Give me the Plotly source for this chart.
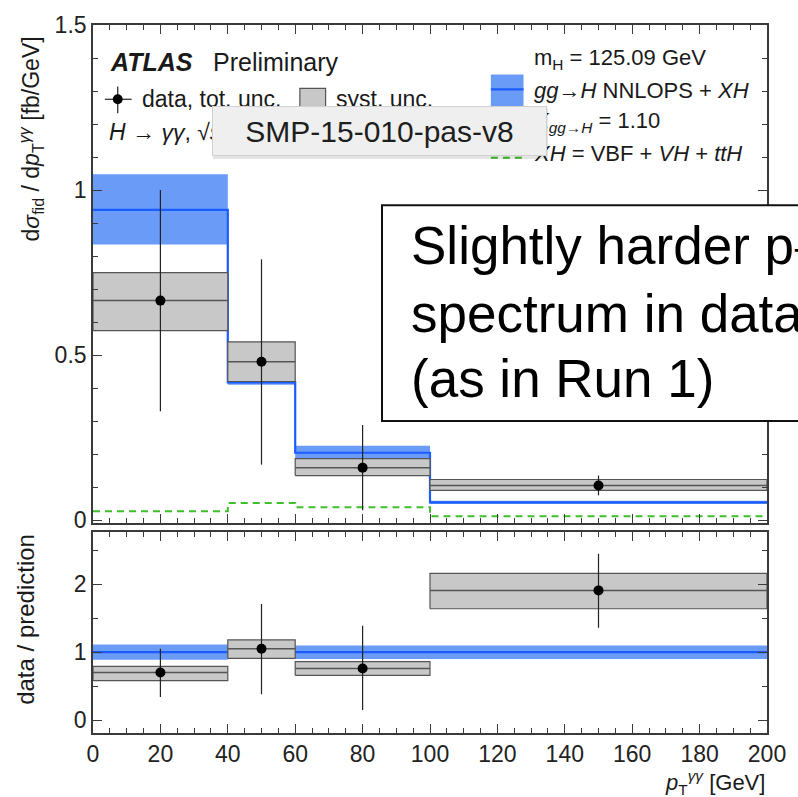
import plotly.graph_objects as go

# pT(gamma gamma) binning [GeV]
bin_lo = [0, 40, 60, 100]
bin_hi = [40, 60, 100, 200]
bin_mid = [20, 50, 80, 150]

# measured fiducial cross section [fb/GeV]
xs_data = [0.665, 0.48, 0.159, 0.105]
xs_tot_up = [0.335, 0.31, 0.129, 0.03]
xs_tot_dn = [0.335, 0.312, 0.129, 0.03]
xs_syst_hi = [0.75, 0.54, 0.186, 0.123]
xs_syst_lo = [0.574, 0.42, 0.135, 0.09]

# gg->H NNLOPS + XH prediction and its uncertainty band
pred = [0.94, 0.417, 0.204, 0.054]
pred_hi = [1.048, 0.45, 0.225, 0.059]
pred_lo = [0.835, 0.41, 0.185, 0.049]
# XH = VBF + VH + ttH contribution
xh = [0.027, 0.052, 0.039, 0.012]

# data / prediction
ratio = [0.70, 1.05, 0.76, 1.91]
ratio_tot_up = [0.35, 0.66, 0.63, 0.54]
ratio_tot_dn = [0.36, 0.67, 0.61, 0.55]
ratio_syst_hi = [0.79, 1.18, 0.86, 2.16]
ratio_syst_lo = [0.58, 0.91, 0.66, 1.64]
ratio_pred = [1.0, 1.0, 1.0, 1.0]
ratio_pred_hi = [1.115, 1.1, 1.1, 1.1]
ratio_pred_lo = [0.888, 0.9, 0.9, 0.9]

# comment box lines
note_lines = ["Slightly harder p<sub>T</sub>", "spectrum in data", "(as in Run 1)"]

FONT = "Liberation Sans, Arial, Helvetica, sans-serif"
BAND = "#6a9cf7"
LINE = "#1a5cff"
GREEN = "#3fbf2a"
GREY = "#c8c8c8"
EDGE = "#555555"
AXIS = "#3a3a3a"


def boxes(lo_x, hi_x, lo_y, hi_y):
    xs, ys = [], []
    for a, b, c, d in zip(lo_x, hi_x, lo_y, hi_y):
        xs += [a, b, b, a, a, None]
        ys += [c, c, d, d, c, None]
    return xs, ys


def step(vals):
    return bin_lo + [bin_hi[-1]], list(vals) + [vals[-1]]


def flat(vals):
    xs, ys = [], []
    for a, b, v in zip(bin_lo, bin_hi, vals):
        xs += [a, b, None]
        ys += [v, v, None]
    return xs, ys


fig = go.Figure()


def add_panel(ax, yax, band_lo, band_hi, central, syst_lo, syst_hi, val, up, dn, extra=None):
    bx, by = boxes(bin_lo, bin_hi, band_lo, band_hi)
    fig.add_trace(go.Scatter(x=bx, y=by, fill="toself", fillcolor=BAND, mode="none",
                             xaxis=ax, yaxis=yax, hoverinfo="skip"))
    sx, sy = step(central)
    fig.add_trace(go.Scatter(x=sx, y=sy, mode="lines", line=dict(color=LINE, width=2.2, shape="hv"),
                             xaxis=ax, yaxis=yax, hoverinfo="skip"))
    if extra is not None:
        ex, ey = step(extra)
        fig.add_trace(go.Scatter(x=ex, y=ey, mode="lines",
                                 line=dict(color=GREEN, width=2, shape="hv", dash="7px,5px"),
                                 xaxis=ax, yaxis=yax, hoverinfo="skip"))
    gx, gy = boxes(bin_lo, bin_hi, syst_lo, syst_hi)
    fig.add_trace(go.Scatter(x=gx, y=gy, fill="toself", fillcolor=GREY, mode="lines",
                             line=dict(color=EDGE, width=1.2), xaxis=ax, yaxis=yax, hoverinfo="skip"))
    fx, fy = flat(val)
    fig.add_trace(go.Scatter(x=fx, y=fy, mode="lines", line=dict(color=EDGE, width=1.5),
                             xaxis=ax, yaxis=yax, hoverinfo="skip"))
    fig.add_trace(go.Scatter(x=bin_mid, y=val, mode="markers",
                             marker=dict(color="black", size=10),
                             error_y=dict(type="data", array=up, arrayminus=dn, width=0,
                                          thickness=1.2, color="#222222"),
                             xaxis=ax, yaxis=yax, hoverinfo="skip"))


add_panel("x", "y", pred_lo, pred_hi, pred, xs_syst_lo, xs_syst_hi, xs_data, xs_tot_up, xs_tot_dn, extra=xh)
add_panel("x2", "y2", ratio_pred_lo, ratio_pred_hi, ratio_pred, ratio_syst_lo, ratio_syst_hi, ratio,
          ratio_tot_up, ratio_tot_dn)

axis_common = dict(showline=True, linecolor=AXIS, linewidth=1.6, mirror="allticks",
                   ticks="inside", tickcolor=AXIS, tickwidth=1.2, ticklen=9,
                   showgrid=False, zeroline=False,
                   tickfont=dict(family=FONT, size=23, color="#222222"))
minor_common = dict(ticklen=5, ticks="inside", tickcolor=AXIS, tickwidth=1)

fig.update_layout(
    width=798, height=797,
    margin=dict(l=93, r=24, t=18, b=64),
    paper_bgcolor="white", plot_bgcolor="white",
    showlegend=False,
    xaxis=dict(domain=[0, 1], anchor="y", range=[0, 200], tick0=0, dtick=20, showticklabels=False,
               minor=dict(dtick=5, **minor_common), **axis_common),
    yaxis=dict(domain=[0.2965, 1], anchor="x", range=[-0.009, 1.5], tick0=0, dtick=0.5,
               minor=dict(dtick=0.1, **minor_common), **axis_common),
    xaxis2=dict(domain=[0, 1], anchor="y2", range=[0, 200], tick0=0, dtick=20,
                minor=dict(dtick=5, **minor_common), **axis_common),
    yaxis2=dict(domain=[0, 0.2839], anchor="x2", range=[-0.19, 2.77], tick0=0, dtick=1,
                minor=dict(dtick=0.5, **minor_common), **axis_common),
)

# pixel -> paper helpers for decorations
L, T, W, H = 93, 18, 681, 715


def px(x):
    return (x - L) / W


def py(y):
    return (T + H - y) / H


def text(x, y, s, size=22, **kw):
    fig.add_annotation(x=px(x), y=py(y), xref="paper", yref="paper", text=s, showarrow=False,
                       xanchor=kw.pop("xanchor", "left"), yanchor=kw.pop("yanchor", "middle"),
                       font=dict(family=FONT, size=size, color=kw.pop("color", "#1a1a1a")), **kw)


# axis titles
text(30, 133, "d<i>σ</i><sub>fid</sub> / d<i>p</i><sub>T</sub><sup><i>γγ</i></sup> [fb/GeV]", size=23,
     textangle=-90, xanchor="center", yanchor="middle")
text(24, 618, "data / prediction", size=24, textangle=-90, xanchor="center", yanchor="middle")
text(774, 783, "<i>p</i><sub>T</sub><sup><i>γγ</i></sup> [GeV]", size=22, xanchor="right")

# legend symbols
fig.add_shape(type="line", xref="paper", yref="paper", x0=px(105), x1=px(132), y0=py(93), y1=py(93),
              line=dict(color="#222222", width=1.2))
fig.add_shape(type="line", xref="paper", yref="paper", x0=px(118), x1=px(118), y0=py(80), y1=py(107),
              line=dict(color="#222222", width=1.2))
fig.add_shape(type="circle", xref="paper", yref="paper", x0=px(113), x1=px(123), y0=py(88), y1=py(98),
              fillcolor="black", line=dict(color="black", width=0))
fig.add_shape(type="rect", xref="paper", yref="paper", x0=px(302), x1=px(328), y0=py(82), y1=py(101),
              fillcolor=GREY, line=dict(color=EDGE, width=1.2))
fig.add_shape(type="rect", xref="paper", yref="paper", x0=px(495), x1=px(528), y0=py(68), y1=py(100),
              fillcolor=BAND, line=dict(width=0))
fig.add_shape(type="line", xref="paper", yref="paper", x0=px(495), x1=px(528), y0=py(83), y1=py(83),
              line=dict(color=LINE, width=2.2))
fig.add_shape(type="line", xref="paper", yref="paper", x0=px(495), x1=px(528), y0=py(152), y1=py(152),
              line=dict(color=GREEN, width=2, dash="7px,5px"))

# legend texts
text(108, 55, "<b><i>ATLAS</i></b>", size=25)
text(212, 55, "Preliminary", size=25)
text(140, 93, "data, tot. unc.", size=23)
text(337, 93, "syst. unc.", size=23)
text(107, 124, "<i>H</i> → <i>γγ</i>, √<i>s</i> = 13 TeV, 3.2 fb<sup>-1</sup>", size=23)
text(537, 52, "m<sub>H</sub> = 125.09 GeV", size=22)
text(537, 84, "<i>gg</i>→<i>H</i> NNLOPS + <i>XH</i>", size=22)
text(537, 116, "<i>K</i><sub><i>gg</i>→<i>H</i></sub> = 1.10", size=22)
text(537, 148, "<i>XH</i> = VBF + <i>VH</i> + <i>ttH</i>", size=22)

# document tag with a soft drop shadow
fig.add_annotation(x=px(214), y=py(102), xref="paper", yref="paper", xanchor="left", yanchor="top",
                   text="", showarrow=False, width=335, height=51,
                   bgcolor="rgba(0,0,0,0.10)", borderwidth=0, borderpad=0)
fig.add_annotation(x=px(213), y=py(100), xref="paper", yref="paper", xanchor="left", yanchor="top",
                   text="SMP-15-010-pas-v8", showarrow=False, width=333, height=48,
                   bgcolor="#efefef", bordercolor="#d0d0d0", borderwidth=1, borderpad=0,
                   font=dict(family=FONT, size=30, color="#1e1e1e"))

# comment box
fig.add_shape(type="rect", xref="paper", yref="paper", layer="above",
              x0=px(385), x1=px(860), y0=py(418), y1=py(200),
              fillcolor="white", line=dict(color="#111111", width=2))
for line_text, yc in zip(note_lines, [245, 309, 375]):
    text(412, yc, line_text, size=53, color="black")

fig.write_html("out.html")
